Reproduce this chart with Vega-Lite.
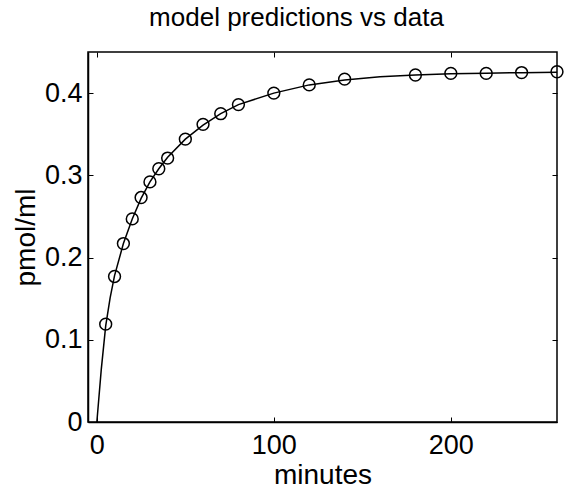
{
  "$schema": "https://vega.github.io/schema/vega-lite/v6.json",
  "autosize": {"type": "none"},
  "padding": {"left": 88, "top": 52, "right": 10, "bottom": 75},
  "width": 469,
  "height": 370,
  "background": "white",
  "title": {
    "text": "model predictions vs data",
    "font": "Liberation Sans",
    "fontSize": 26,
    "fontWeight": "normal",
    "color": "black",
    "anchor": "middle",
    "baseline": "alphabetic",
    "offset": 0,
    "dx": -26
  },
  "datasets": {
    "obs": [
      {"minutes": 5, "pmol": 0.119},
      {"minutes": 10, "pmol": 0.177},
      {"minutes": 15, "pmol": 0.217},
      {"minutes": 20, "pmol": 0.247},
      {"minutes": 25, "pmol": 0.273},
      {"minutes": 30, "pmol": 0.292},
      {"minutes": 35, "pmol": 0.308},
      {"minutes": 40, "pmol": 0.321},
      {"minutes": 50, "pmol": 0.344},
      {"minutes": 60, "pmol": 0.362},
      {"minutes": 70, "pmol": 0.375},
      {"minutes": 80, "pmol": 0.386},
      {"minutes": 100, "pmol": 0.400},
      {"minutes": 120, "pmol": 0.410},
      {"minutes": 140, "pmol": 0.417},
      {"minutes": 180, "pmol": 0.422},
      {"minutes": 200, "pmol": 0.424},
      {"minutes": 220, "pmol": 0.424},
      {"minutes": 240, "pmol": 0.425},
      {"minutes": 260, "pmol": 0.426}
    ],
    "model": [
      {"minutes": 0, "pmol": 0.0},
      {"minutes": 2.5, "pmol": 0.064},
      {"minutes": 5, "pmol": 0.117},
      {"minutes": 7.5, "pmol": 0.151},
      {"minutes": 10, "pmol": 0.178},
      {"minutes": 15, "pmol": 0.217},
      {"minutes": 20, "pmol": 0.247},
      {"minutes": 25, "pmol": 0.272},
      {"minutes": 30, "pmol": 0.292},
      {"minutes": 35, "pmol": 0.308},
      {"minutes": 40, "pmol": 0.322},
      {"minutes": 50, "pmol": 0.344},
      {"minutes": 60, "pmol": 0.361},
      {"minutes": 70, "pmol": 0.375},
      {"minutes": 80, "pmol": 0.386},
      {"minutes": 100, "pmol": 0.400},
      {"minutes": 120, "pmol": 0.410},
      {"minutes": 140, "pmol": 0.416},
      {"minutes": 160, "pmol": 0.420},
      {"minutes": 180, "pmol": 0.422},
      {"minutes": 200, "pmol": 0.4235},
      {"minutes": 220, "pmol": 0.4243},
      {"minutes": 240, "pmol": 0.4249},
      {"minutes": 260, "pmol": 0.4255}
    ]
  },
  "config": {
    "view": {"stroke": "black", "strokeWidth": 1.5},
    "axis": {
      "grid": false,
      "domainColor": "black",
      "domainWidth": 1.5,
      "tickColor": "black",
      "tickWidth": 1,
      "labelFont": "Liberation Sans",
      "labelFontSize": 27,
      "labelColor": "black",
      "titleFont": "Liberation Sans",
      "titleFontSize": 28,
      "titleFontWeight": "normal",
      "titleColor": "black"
    }
  },
  "layer": [
    {
      "data": {"name": "model"},
      "mark": {"type": "line", "color": "black", "strokeWidth": 1.5},
      "encoding": {
        "x": {
          "field": "minutes", "type": "quantitative",
          "scale": {"domain": [-5, 260], "nice": false, "zero": false},
          "axis": {"orient": "top", "values": [0, 100, 200], "labels": false, "title": null, "tickSize": -5, "domain": false}
        },
        "y": {
          "field": "pmol", "type": "quantitative",
          "scale": {"domain": [0, 0.45], "nice": false},
          "axis": {"orient": "right", "values": [0, 0.1, 0.2, 0.3, 0.4], "labels": false, "title": null, "tickSize": -5, "domain": false}
        }
      }
    },
    {
      "data": {"name": "obs"},
      "mark": {"type": "point", "shape": "circle", "filled": false, "color": "black", "strokeWidth": 1.5, "size": 140, "opacity": 1},
      "encoding": {
        "x": {
          "field": "minutes", "type": "quantitative",
          "axis": {"orient": "bottom", "values": [0, 100, 200], "title": "minutes", "tickSize": -5, "labelPadding": 15, "titlePadding": 3, "labelFlush": false}
        },
        "y": {
          "field": "pmol", "type": "quantitative",
          "axis": {"orient": "left", "values": [0, 0.1, 0.2, 0.3, 0.4], "title": "pmol/ml", "tickSize": -5, "labelPadding": 11, "titlePadding": 4, "format": "~g", "labelFlush": false}
        }
      }
    }
  ],
  "resolve": {"axis": {"x": "independent", "y": "independent"}}
}
